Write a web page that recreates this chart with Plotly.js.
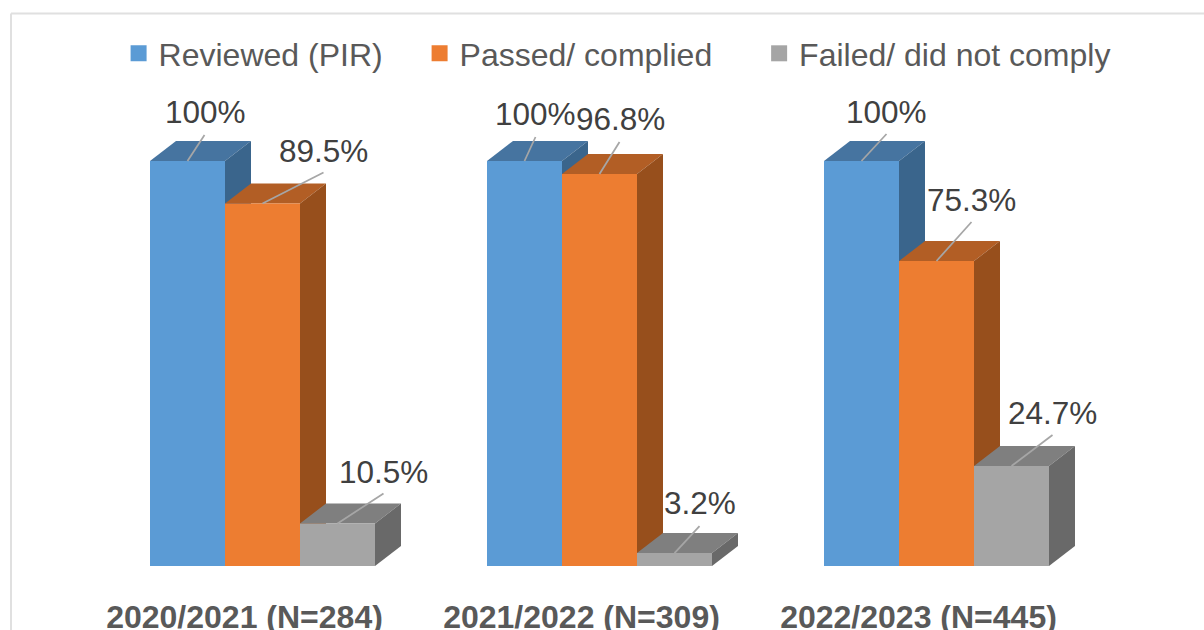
<!DOCTYPE html>
<html>
<head>
<meta charset="utf-8">
<script src="https://cdn.plot.ly/plotly-3.0.1.min.js"></script>
<style>html,body{margin:0;padding:0;background:#fff;overflow:hidden}#chart{width:1204px;height:630px}</style>
</head>
<body>
<div id="chart"></div>
<script>
// ---- data ----
const categories = ['2020/2021 (N=284)', '2021/2022 (N=309)', '2022/2023 (N=445)'];
const reviewed = [100, 100, 100];
const passed = [89.5, 96.8, 75.3];
const failed = [10.5, 3.2, 24.7];
const labelsReviewed = ['100%', '100%', '100%'];
const labelsPassed = ['89.5%', '96.8%', '75.3%'];
const labelsFailed = ['10.5%', '3.2%', '24.7%'];
const seriesNames = ['Reviewed (PIR)', 'Passed/ complied', 'Failed/ did not comply'];

// ---- styling / geometry config ----
const W = 1204, H = 630, plotH = 566;
const pxPerCat = 337, pxPerPct = 4.05, barPx = 75;
const firstCenterPx = 262.5;
const depthX = 26 / pxPerCat, depthY = 20 / pxPerPct;
const slotW = barPx / pxPerCat;
const xRange = [-firstCenterPx / pxPerCat, (W - firstCenterPx) / pxPerCat];
const yRange = [0, plotH / pxPerPct];
const front = ['#5B9BD5', '#ED7D31', '#A5A5A5'];
const topC = ['#4674A0', '#B25E25', '#7F7F7F'];
const sideC = ['#3A658C', '#974F1C', '#696969'];
const series = [reviewed, passed, failed];
const labels = [labelsReviewed, labelsPassed, labelsFailed];
// pixel offsets relative to each bar's top centre: leader tail and label centre
const leaderTail = [
  [[17, 26], [11, 24], [25, 27]],
  [[61, 31], [20, 32], [35, 39]],
  [[46, 30], [25, 27], [41, 31]]
];
const labelOffset = [
  [[18, 49], [11, 47], [25, 49]],
  [[61, 53], [21, 55], [34.5, 61]],
  [[46, 51], [25, 50], [41, 53]]
];
const legendX = [0.0985, 0.3485, 0.6305];
const tickShiftPx = 18;

const traces = [];
function poly(xs, ys, color) {
  return {type: 'scatter', mode: 'lines', x: xs, y: ys, fill: 'toself', fillcolor: color,
    line: {width: 0, color: color}, showlegend: false, hoverinfo: 'skip', xaxis: 'x', yaxis: 'y'};
}
// depth faces, back to front, on the lower axes
series.forEach((vals, s) => {
  vals.forEach((v, c) => {
    const x0 = c + (s - 1.5) * slotW, x1 = x0 + slotW;
    traces.push(poly([x0, x0 + depthX, x1 + depthX, x1, x0], [v, v + depthY, v + depthY, v, v], topC[s]));
    traces.push(poly([x1, x1 + depthX, x1 + depthX, x1, x1], [v, v + depthY, depthY, 0, v], sideC[s]));
  });
});
// front faces, on the overlaying axes
const catIdx = categories.map((_, i) => i);
series.forEach((vals, s) => {
  traces.push({type: 'bar', x: catIdx, y: vals, name: seriesNames[s], marker: {color: front[s], line: {width: 0}},
    showlegend: false, xaxis: 'x2', yaxis: 'y2'});
});
// leader lines
series.forEach((vals, s) => {
  const xs = [], ys = [];
  vals.forEach((v, c) => {
    const cx = c + (s - 1) * slotW;
    xs.push(cx, cx + leaderTail[s][c][0] / pxPerCat, null);
    ys.push(v, v + leaderTail[s][c][1] / pxPerPct, null);
  });
  traces.push({type: 'scatter', mode: 'lines', x: xs, y: ys, line: {color: '#A6A6A6', width: 1.75},
    showlegend: false, hoverinfo: 'skip', xaxis: 'x2', yaxis: 'y2'});
});
// legend entries
seriesNames.forEach((n, s) => {
  traces.push({type: 'scatter', mode: 'markers', x: [null], y: [null], name: n,
    marker: {symbol: 'square', size: 17, color: front[s]},
    legend: s === 0 ? 'legend' : 'legend' + (s + 1), xaxis: 'x2', yaxis: 'y2'});
});

const annotations = [];
series.forEach((vals, s) => {
  vals.forEach((v, c) => {
    annotations.push({xref: 'x2', yref: 'y2', x: c + (s - 1) * slotW, y: v, text: labels[s][c], showarrow: false,
      xanchor: 'center', yanchor: 'middle', xshift: labelOffset[s][c][0], yshift: labelOffset[s][c][1],
      font: {family: 'Liberation Sans, Arial, sans-serif', size: 31.5, color: '#404040'}});
  });
});

function legendCfg(i) {
  return {x: legendX[i], y: 1 - 53.5 / plotH, xref: 'paper', yref: 'paper', xanchor: 'left', yanchor: 'middle',
    orientation: 'h', bgcolor: 'rgba(0,0,0,0)', borderwidth: 0,
    font: {family: 'Liberation Sans, Arial, sans-serif', size: 32, color: '#595959'}};
}

const layout = {
  width: W, height: H, margin: {l: 0, r: 0, t: 0, b: H - plotH, pad: 0},
  paper_bgcolor: '#fff', plot_bgcolor: 'rgba(0,0,0,0)', barmode: 'group', bargap: 1 - 3 * slotW, bargroupgap: 0,
  showlegend: true, hovermode: false,
  legend: legendCfg(0), legend2: legendCfg(1), legend3: legendCfg(2),
  xaxis: {range: xRange, tickmode: 'array', tickvals: catIdx.map(i => i - tickShiftPx / pxPerCat), ticktext: categories,
    ticks: '', showgrid: false, zeroline: false, showline: false, fixedrange: true, ticklabelstandoff: 29,
    tickfont: {family: 'Liberation Sans, Arial, sans-serif', size: 32, color: '#595959', weight: 'bold'}},
  yaxis: {range: yRange, visible: false, fixedrange: true},
  xaxis2: {range: xRange, overlaying: 'x', visible: false, fixedrange: true},
  yaxis2: {range: yRange, overlaying: 'y', visible: false, fixedrange: true},
  annotations: annotations,
  shapes: [
    {type: 'line', xref: 'paper', yref: 'paper', x0: 11 / W, x1: 1, y0: 1 - 13.5 / plotH, y1: 1 - 13.5 / plotH, line: {color: '#E0E0E0', width: 2}},
    {type: 'line', xref: 'paper', yref: 'paper', x0: 11 / W, x1: 11 / W, y0: 1 - 13.5 / plotH, y1: 1 - H / plotH, line: {color: '#E0E0E0', width: 2}}
  ]
};
Plotly.newPlot('chart', traces, layout, {displayModeBar: false, staticPlot: true});
</script>
</body>
</html>
